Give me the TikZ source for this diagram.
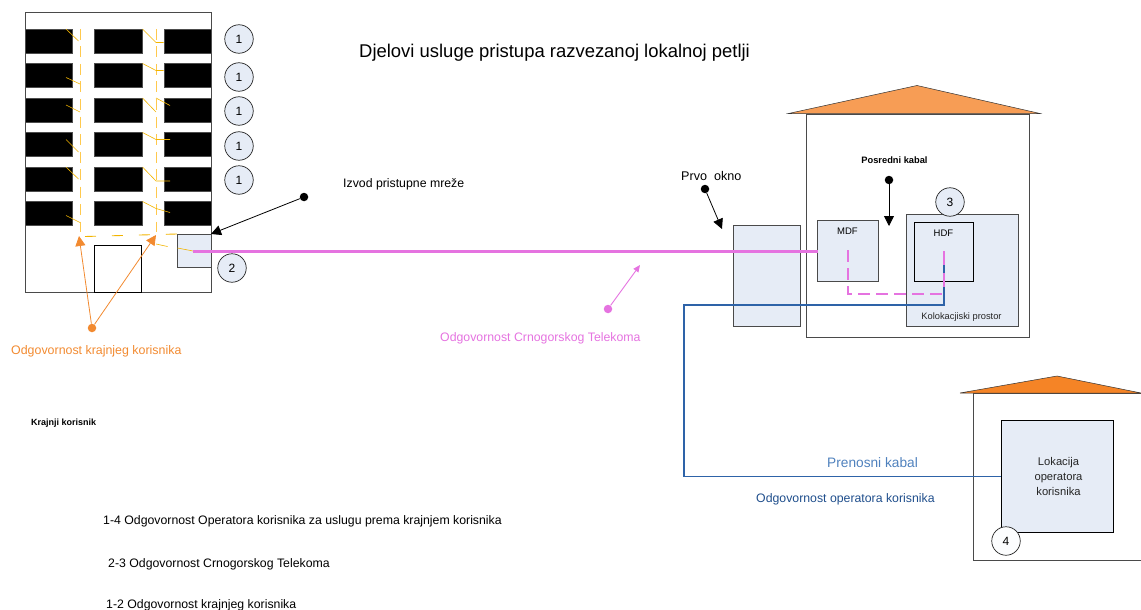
\documentclass[tikz,border=0pt]{standalone}
\usepackage{fontspec}
\setmainfont{Liberation Sans}
\usetikzlibrary{arrows.meta}
\definecolor{boxfill}{HTML}{E6ECF6}
\definecolor{boxline}{HTML}{4A4A4A}
\definecolor{yel}{HTML}{FFC94D}
\definecolor{yeld}{HTML}{F2B400}
\definecolor{pnk}{HTML}{E573E0}
\definecolor{blu}{HTML}{2E63A8}
\definecolor{blutext}{HTML}{1F4E8C}
\definecolor{blulight}{HTML}{4F81BD}
\definecolor{org}{HTML}{F28A30}
\definecolor{roofa}{HTML}{F79D55}
\definecolor{roofb}{HTML}{F58426}
\tikzset{
 box/.style={draw=boxline,line width=.8pt,inner sep=0pt,outer sep=0pt},
 lightbox/.style={box,fill=boxfill},
 win/.style={fill=black,draw=black!70,line width=.3pt,inner sep=0pt,outer sep=0pt,minimum width=47.5pt,minimum height=24pt},
 num/.style={circle,draw=black!85,fill=boxfill,line width=.7pt,minimum size=28.5pt,inner sep=0pt,font=\fontsize{12}{12}\selectfont},
 dot/.style={circle,fill=#1,inner sep=0pt,minimum size=8.5pt},
 lab/.style={inner sep=0pt,text=black,font=\fontsize{#1}{#1}\selectfont},
 stub/.style={draw=yeld,line width=.6pt},
 riser/.style={draw=yel,line width=.8pt,dash pattern=on 11pt off 6.5pt},
 floorrun/.style={draw=yeld,line width=.9pt,dash pattern=on 11pt off 16pt},
 pinkline/.style={draw=pnk,line width=3pt},
 pinkdash/.style={draw=pnk,line width=1.3pt,dash pattern=on 12pt off 6pt},
 blueline/.style={draw=blu,line width=1.4pt},
 blk/.style={draw=black,line width=.8pt,-{Triangle[length=10pt,width=10pt]}},
 orgarrow/.style={draw=org,line width=.8pt,-{Triangle[length=10pt,width=10pt]}},
 pnkarrow/.style={draw=pnk,line width=.9pt,-{Triangle[length=7pt,width=6pt]}},
}
\begin{document}
\begin{tikzpicture}[x=1pt,y=-1pt]
\useasboundingbox (0,0) rectangle (1141,610);
% building
\node[box,minimum width=186pt,minimum height=280pt] (bld) at (118,152) {};
\foreach \r/\y in {a/41,b/75,c/110,d/144,e/179,f/213}{
 \node[win] (wl\r) at (48.5,\y) {};
 \node[win] (wm\r) at (118,\y) {};
 \node[win] (wr\r) at (187.5,\y) {};
}
\node[box,draw=black,minimum width=47pt,minimum height=47pt] (door) at (118,268.5) {};
\node[lightbox,minimum width=34pt,minimum height=33pt] (cab) at (194,250.5) {};
% risers
\coordinate (ra) at (80,29); \coordinate (rb) at (80,232);
\coordinate (sa) at (156,29); \coordinate (sb) at (156,232);
\coordinate (ba) at (85,236.5); \coordinate (bb) at (177,234);
\draw[riser] (ra) -- (rb);
\draw[riser] (sa) -- (sb);
\draw[floorrun] (ba) -- (bb);
% stubs left
\draw[stub] (66,29) -- (78.5,41);
\draw[stub] (66,77.5) -- (80,84);
\draw[stub] (66,105) -- (80,112);
\draw[stub] (66,139.5) -- (78.5,152);
\draw[stub] (66,167) -- (78.5,179);
\draw[stub] (66,215.5) -- (80,222.5);
% stubs right
\draw[stub] (142.5,29) -- (156,42.5) -- (163.5,42.5);
\draw[stub] (142.5,63.5) -- (156,70.5) -- (163.5,70.5);
\draw[stub] (142.5,98) -- (156,112);
\draw[stub] (156,98) -- (170,105.5);
\draw[stub] (142.5,132.5) -- (156,139.5) -- (170,139.5);
\draw[stub] (142.5,167) -- (156,181) -- (170,181);
\draw[stub] (142.5,201.5) -- (156,208.5) -- (170,212.5);
\draw[stub] (156,244) -- (167.5,246.5);
\draw[stub] (177.5,248) -- (193,251);
% numbers
\foreach \n/\y in {a/39,b/77,c/111,d/146,e/180}{
 \node[num] (n\n) at (239,\y) {1};
}
\node[num] (ntwo) at (232,268) {2};
% exchange house
\node[box,minimum width=223pt,minimum height=223pt] (hq) at (917.5,225.5) {};
\fill[roofa,draw=black!80,line width=.5pt] (788.5,113.5) -- (917,85.5) -- (1040,113.5) -- cycle;
\node[lightbox,minimum width=67pt,minimum height=101pt] (okno) at (766.5,275.5) {};
\node[lightbox,minimum width=61pt,minimum height=61pt] (mdf) at (848,250.5) {};
\node[lightbox,minimum width=112pt,minimum height=112pt] (kolo) at (962,270) {};
\node[box,draw=black,fill=boxfill,minimum width=59pt,minimum height=59pt] (hdf) at (943.5,251.5) {};
\node[lab=9.5] at (847.5,231) {MDF};
\node[lab=9.5] at (943.5,233.5) {HDF};
\node[lab=9.3,text=black!85] at (961.5,317.5) {Kolokacjiski prostor};
\node[num] (nthree) at (950,202) {3};
% operator house
\node[box,minimum width=190pt,minimum height=167pt] (op) at (1068,476.5) {};
\fill[roofb,draw=black!80,line width=.5pt] (960,393) -- (1057,376) -- (1141,393) -- cycle;
\node[lightbox,draw=black,minimum width=112pt,minimum height=112pt] (lok) at (1057,476) {};
\node[lab=11.2,align=center,text=black!85] at (1058.5,476.5) {Lokacija\\[3.5pt]operatora\\[3.5pt]korisnika};
\node[num,fill=white!90!boxfill] (nfour) at (1006,541) {4};
% cables
\coordinate (pinkend) at (818,251);
\coordinate (pinkstart) at (193,251);
\draw[pinkline] (pinkstart) -- (pinkend);
\coordinate (pa) at (848,250); \coordinate (pb) at (848,294);
\coordinate (pc) at (944,294); \coordinate (pd) at (944,251);
\draw[pinkdash] (pa) -- (pb) -- (pc);
\coordinate (ba1) at (684,476.5); \coordinate (ba2) at (684,305);
\coordinate (ba3) at (944,305);
\draw[pnk,line width=1.3pt] (pc) -- (pd);
\draw[blueline] (lok.west |- ba1) -- (ba1) -- (ba2) -- (ba3) -- (944,287);
\draw[blu,line width=1.3pt] (944,265) -- (944,273);
% callouts
\node[dot=black] (dizvod) at (304,197) {};
\node[dot=black] (dprvo) at (705,189) {};
\node[dot=black] (dpos) at (889,180) {};
\coordinate (tprvo) at (722,229);
\coordinate (tpos) at (889,226);
\coordinate (tpink) at (640,265);
\coordinate (to1) at (79,236);
\coordinate (to2) at (156,235);
\draw[blk] (dizvod) -- (cab.north east);
\draw[blk] (dprvo) -- (tprvo);
\draw[blk] (dpos) -- (tpos);
\node[dot=pnk] (dpink) at (608,309) {};
\draw[pnkarrow] (dpink) -- (tpink);
\node[dot=org] (dorg) at (92,328) {};
\draw[orgarrow] (dorg) -- (to1);
\draw[orgarrow] (dorg) -- (to2);
% text
\node[lab=18.45,anchor=west] at (359,52.5) {Djelovi usluge pristupa razvezanoj lokalnoj petlji};
\node[lab=12.3,anchor=west] at (343,184) {Izvod pristupne mreže};
\node[lab=12.6,anchor=west] at (681,176) {Prvo\ \ okno};
\node[lab=9.3,font=\bfseries\fontsize{9.3}{10}\selectfont] at (894.5,160.5) {Posredni kabal};
\node[lab=12.4,anchor=west,text=org] at (11,351) {Odgovornost krajnjeg korisnika};
\node[lab=12.3,anchor=west,text=pnk] at (440,338.5) {Odgovornost Crnogorskog Telekoma};
\node[lab=9,anchor=west,font=\bfseries\fontsize{9}{10}\selectfont] at (31,423) {Krajnji korisnik};
\node[lab=13.7,anchor=west,text=blulight] at (827,463) {Prenosni kabal};
\node[lab=12.3,anchor=west,text=blutext] at (756,499.5) {Odgovornost operatora korisnika};
\node[lab=12.3,anchor=west] at (103,521) {1-4 Odgovornost Operatora korisnika za uslugu prema krajnjem korisnika};
\node[lab=12.3,anchor=west] at (108,564) {2-3 Odgovornost Crnogorskog Telekoma};
\node[lab=12.3,anchor=west] at (106,605) {1-2 Odgovornost krajnjeg korisnika};
\end{tikzpicture}
\end{document}
